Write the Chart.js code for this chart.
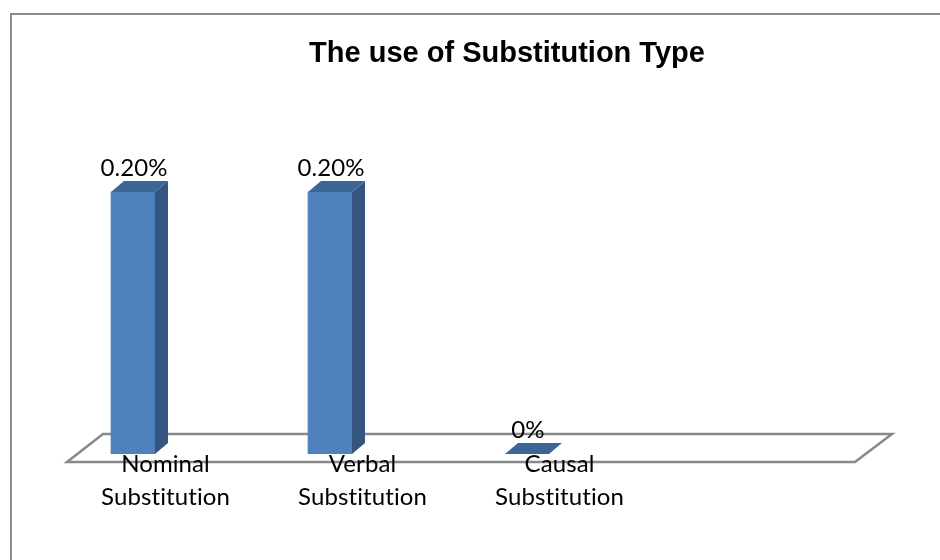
<!DOCTYPE html>
<html>
<head>
<meta charset="utf-8">
<title>The use of Substitution Type</title>
<script src="https://cdn.jsdelivr.net/npm/chart.js@4.4.1/dist/chart.umd.min.js"></script>
<style>
  body { margin: 0; background: #fff; overflow: hidden; }
  canvas { display: block; }
</style>
</head>
<body>
<canvas id="chart" width="940" height="560"></canvas>
<script>
const chartTitle = "The use of Substitution Type"
const categories = [["Nominal", "Substitution"], ["Verbal", "Substitution"], ["Causal", "Substitution"]]
// the floor has room for one more (empty) category
const axisLabels = [...categories, ""]
const percentValues = [0.20, 0.20, 0]

const frontColor = "#4F81BD"
const sideColor = "#33557F"
const topColor = "#3C6696"
const depthX = 13
const depthY = 11

function formatPercent(v) {
    return v === 0 ? "0%" : v.toFixed(2) + "%"
}

const excelLook = {
    id: "excelLook",
    beforeDraw(chart) {
        const ctx = chart.ctx
        const area = chart.chartArea
        ctx.save()
        // outer frame of the chart object
        ctx.strokeStyle = "#8c8c8c"
        ctx.lineWidth = 2
        ctx.strokeRect(11, 14, 1000, 1000)
        // 3d floor
        ctx.strokeStyle = "#898989"
        ctx.lineWidth = 2.5
        ctx.lineJoin = "miter"
        ctx.beginPath()
        ctx.moveTo(area.left, area.bottom + 8)
        ctx.lineTo(area.right, area.bottom + 8)
        ctx.lineTo(area.right + 37, area.bottom - 20)
        ctx.lineTo(area.left + 36, area.bottom - 20)
        ctx.closePath()
        ctx.stroke()
        // title
        ctx.fillStyle = "#000"
        ctx.font = 'bold 29px "Liberation Sans", Arial, sans-serif'
        ctx.textAlign = "center"
        ctx.textBaseline = "alphabetic"
        ctx.fillText(chartTitle, 507, 62)
        ctx.restore()
        // no "ti" ligatures in the tick labels
        if ("letterSpacing" in ctx) ctx.letterSpacing = "0.1px"
    },
    afterDatasetsDraw(chart) {
        const ctx = chart.ctx
        const meta = chart.getDatasetMeta(0)
        ctx.save()
        meta.data.forEach(function(bar, i) {
            const left = bar.x - bar.width / 2
            const right = bar.x + bar.width / 2
            const top = bar.y
            const base = bar.base
            // side face
            if (base - top > 0) {
                ctx.fillStyle = sideColor
                ctx.beginPath()
                ctx.moveTo(right, top)
                ctx.lineTo(right + depthX, top - depthY)
                ctx.lineTo(right + depthX, base - depthY)
                ctx.lineTo(right, base)
                ctx.closePath()
                ctx.fill()
            }
            // top face
            ctx.fillStyle = topColor
            ctx.beginPath()
            ctx.moveTo(left, top)
            ctx.lineTo(left + depthX, top - depthY)
            ctx.lineTo(right + depthX, top - depthY)
            ctx.lineTo(right, top)
            ctx.closePath()
            ctx.fill()
            // value label
            ctx.fillStyle = "#000"
            ctx.font = '24px Lato, "Open Sans", sans-serif'
            ctx.textAlign = "center"
            ctx.textBaseline = "alphabetic"
            ctx.fillText(formatPercent(percentValues[i]), bar.x + 1, top - 16)
        })
        ctx.restore()
    }
}

const ctx = document.getElementById("chart").getContext("2d")

const myChart = new Chart(ctx, {
    type: "bar",
    data: {
        labels: axisLabels,
        datasets: [{
            label: "Substitution",
            data: percentValues.map(function(v, i) { return {x: i, y: v} }),
            xAxisID: "xb",
            yAxisID: "y",
            backgroundColor: frontColor,
            borderWidth: 0,
            barThickness: 44
        }]
    },
    options: {
        responsive: false,
        animation: false,
        devicePixelRatio: 1,
        layout: {
            padding: {left: 67, right: 85, top: 126.5, bottom: 52}
        },
        plugins: {
            legend: {display: false},
            title: {display: false},
            tooltip: {enabled: false}
        },
        scales: {
            x: {
                type: "category",
                offset: true,
                grid: {display: false, drawTicks: false},
                border: {display: false},
                ticks: {
                    color: "#000",
                    padding: -6,
                    maxRotation: 0,
                    autoSkip: false,
                    font: {family: 'Lato, "Open Sans", sans-serif', size: 24, lineHeight: 1.375}
                }
            },
            xb: {
                type: "linear",
                display: false,
                offset: false,
                min: -0.335,
                max: 3.665
            },
            y: {
                display: false,
                min: 0,
                max: 0.25
            }
        }
    },
    plugins: [excelLook]
})
</script>
</body>
</html>
